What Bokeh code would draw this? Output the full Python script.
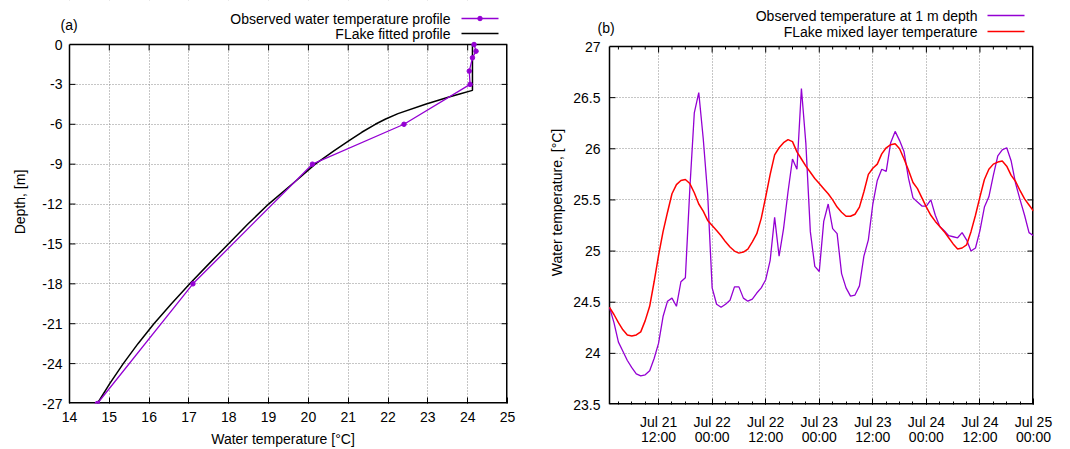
from bokeh.plotting import figure
from bokeh.layouts import row
from bokeh.models import FixedTicker, Range1d
from bokeh.core.properties import value
from bokeh.embed import file_html
from bokeh.resources import INLINE

FONT = "Liberation Sans"
PURPLE = "#9400D3"
PAGE_H = 449

# ---------------- (a) vertical temperature profile ----------------
obs_depth = [0, -0.5, -1, -2, -3, -6, -9, -18, -27]
obs_temp = [24.16, 24.21, 24.12, 24.04, 24.06, 22.40, 20.10, 17.10, 14.70]

fit_depth = [0, -3.45, -3.7, -3.95, -4.5, -5.2, -5.6, -6, -6.6, -7.2, -8, -9, -10.1,
             -12, -13.5, -15, -16.5, -18, -19.5, -21, -22.5, -24, -25.5, -27]
fit_temp = [24.12, 24.12, 23.82, 23.53, 22.94, 22.25, 21.94, 21.68, 21.34, 21.04,
            20.64, 20.17, 19.75, 19.00, 18.48, 17.99, 17.50, 17.02, 16.56, 16.12,
            15.72, 15.35, 15.01, 14.70]

temp_ticks = list(range(14, 26))
depth_ticks = list(range(-27, 1, 3))
depth_labels = ["-27", "-24", "-21", "-18", "-15", "-12", "-9", "-6", "-3", "0"]

# ---------------- (b) time series, hours after Jul 21 00:00 ----------------
hours = list(range(1, 97))
obs_1m = [24.45, 24.30, 24.11, 24.02, 23.93, 23.86, 23.80, 23.78, 23.79, 23.83,
          23.95, 24.10, 24.36, 24.51, 24.54, 24.46, 24.70, 24.74, 25.61, 26.35,
          26.55, 26.10, 25.55, 24.64, 24.48, 24.45, 24.48, 24.52, 24.65, 24.65,
          24.54, 24.51, 24.53, 24.59, 24.64, 24.72, 24.91, 25.33, 24.95, 25.22,
          25.58, 25.90, 25.80, 26.59, 26.05, 25.19, 24.85, 24.80, 25.29, 25.46,
          25.22, 25.17, 24.78, 24.64, 24.56, 24.57, 24.66, 24.95, 25.11, 25.46,
          25.69, 25.80, 25.78, 26.06, 26.17, 26.08, 25.97, 25.71, 25.52, 25.48,
          25.44, 25.44, 25.50, 25.35, 25.24, 25.20, 25.15, 25.14, 25.13, 25.18,
          25.11, 25.00, 25.03, 25.20, 25.43, 25.53, 25.74, 25.93, 25.99, 26.01,
          25.88, 25.66, 25.50, 25.35, 25.18, 25.15]
flake_ml = [24.45, 24.38, 24.30, 24.23, 24.18, 24.17, 24.18, 24.21, 24.32, 24.46,
            24.70, 24.96, 25.19, 25.38, 25.56, 25.65, 25.69, 25.70, 25.66, 25.57,
            25.46, 25.39, 25.30, 25.25, 25.20, 25.15, 25.09, 25.04, 25.00, 24.98,
            24.99, 25.02, 25.09, 25.17, 25.32, 25.53, 25.75, 25.94, 26.01, 26.06,
            26.09, 26.07, 25.97, 25.90, 25.83, 25.77, 25.71, 25.66, 25.61, 25.56,
            25.50, 25.43, 25.38, 25.34, 25.34, 25.36, 25.43, 25.58, 25.75, 25.81,
            25.85, 25.95, 26.01, 26.04, 26.05, 26.00, 25.90, 25.79, 25.67, 25.61,
            25.52, 25.43, 25.35, 25.29, 25.24, 25.19, 25.13, 25.07, 25.02, 25.03,
            25.06, 25.19, 25.35, 25.53, 25.70, 25.80, 25.85, 25.87, 25.88, 25.83,
            25.74, 25.68, 25.59, 25.51, 25.45, 25.39]

time_ticks = [12, 24, 36, 48, 60, 72, 84, 96]
time_labels = ["Jul 21\n12:00", "Jul 22\n00:00", "Jul 22\n12:00", "Jul 23\n00:00",
               "Jul 23\n12:00", "Jul 24\n00:00", "Jul 24\n12:00", "Jul 25\n00:00"]
time_minor = list(range(3, 97, 3))
wt_ticks = [23.5, 24, 24.5, 25, 25.5, 26, 26.5, 27]
wt_labels = ["23.5", "24", "24.5", "25", "25.5", "26", "26.5", "27"]

MAJOR_PX = 6
MINOR_PX = 3


def gnuplot_panel(page_x0, fig_w, box, frame_left, xr, yr, xticks, yticks,
                  xminor=(), xover=None, yover=None, ylab_standoff=0):
    """A boxed gnuplot-style panel.

    box = (left, right, top, bottom) of the plotting box in page pixels.  The
    Bokeh frame reaches up to the top of the page and a little left of the box,
    so that the panel letter and the key can be drawn as ordinary glyphs; the
    parts of the frame outside the box are masked white.
    """
    L, R, T, B = box
    kx = (xr[1] - xr[0]) / (R - L)
    ky = (yr[1] - yr[0]) / (B - T)

    def px(x):
        return xr[0] + (x - L) * kx

    def py(y):
        return yr[1] - (y - T) * ky

    p = figure(frame_width=R - frame_left, frame_height=B,
               min_border_left=frame_left - page_x0,
               min_border_right=page_x0 + fig_w - R,
               min_border_top=0, min_border_bottom=PAGE_H - B,
               x_range=Range1d(px(frame_left), xr[1]), y_range=Range1d(yr[0], py(0)),
               output_backend="svg", toolbar_location=None)
    p.outline_line_color = None
    p.background_fill_color = "white"
    p.border_fill_color = "white"

    xt = FixedTicker(ticks=xticks, minor_ticks=list(xminor))
    yt = FixedTicker(ticks=yticks)
    for g in (p.xgrid, p.ygrid):
        g.grid_line_color = "#8c8c8c"
        g.grid_line_dash = "1 2"
        g.grid_line_width = 1
    p.xgrid.ticker = xt
    p.ygrid.ticker = yt

    xa = p.xaxis[0]
    ya = p.yaxis[0]
    xa.ticker = xt
    ya.ticker = yt
    for ax in (xa, ya):
        ax.axis_line_color = None
        ax.major_tick_out = 0
        ax.minor_tick_out = 0
        ax.major_tick_line_color = "black"
        ax.minor_tick_line_color = "black"
        ax.major_label_text_font = FONT
        ax.major_label_text_font_size = "14px"
        ax.major_label_text_color = "black"
        ax.axis_label_text_font = FONT
        ax.axis_label_text_font_size = "14px"
        ax.axis_label_text_font_style = "normal"
        ax.axis_label_text_color = "black"
    xa.major_tick_in = MAJOR_PX
    xa.minor_tick_in = MINOR_PX if xminor else 0
    ya.major_tick_in = 0
    ya.minor_tick_in = 0
    ya.major_label_standoff = -(L - frame_left) + ylab_standoff
    if xover:
        xa.major_label_overrides = xover
    if yover:
        ya.major_label_overrides = yover

    # white mask over the frame outside the box (left strip and top strip)
    x_lo, y_hi = px(frame_left), py(0)
    p.quad(left=[x_lo, x_lo], right=[xr[0], xr[1]], bottom=[yr[0], yr[1]],
           top=[y_hi, y_hi], fill_color="white", line_color=None)

    # box: left and top edges lie inside the frame, right and bottom on its edge
    p.segment(x0=[xr[0], xr[0]], y0=[yr[0], yr[1]], x1=[xr[0], xr[1]], y1=[yr[1], yr[1]],
              line_color="black", line_width=1.5)
    p.segment(x0=[xr[1], xr[0]], y0=[yr[0], yr[0]], x1=[xr[1], xr[1]], y1=[yr[1], yr[0]],
              line_color="black", line_width=3)

    # inward ticks on left, right and top edges
    yin = [t for t in yticks if yr[0] < t < yr[1]]
    xin = [t for t in xticks if xr[0] < t < xr[1]]
    xmn = [t for t in xminor if xr[0] < t < xr[1] and t not in xticks]
    tx0 = [xr[0]] * len(yin) + [xr[1]] * len(yin) + xin + xmn
    tx1 = ([xr[0] + MAJOR_PX * kx] * len(yin) + [xr[1] - MAJOR_PX * kx] * len(yin)
           + xin + xmn)
    ty0 = yin + yin + [yr[1]] * (len(xin) + len(xmn))
    ty1 = yin + yin + [yr[1] - MAJOR_PX * ky] * len(xin) + [yr[1] - MINOR_PX * ky] * len(xmn)
    p.segment(x0=tx0, y0=ty0, x1=tx1, y1=ty1, line_color="black", line_width=1)
    return p, xa, ya, px, py


def key_text(p, xs, ys, texts, align="right"):
    p.text(x=xs, y=ys, text=texts, text_font=value(FONT), text_font_size=value("14px"),
           text_color="black", text_align=align, text_baseline="middle")


# ---------------- panel (a) ----------------
pa, xa, ya, ax_, ay_ = gnuplot_panel(0, 530, (69, 507, 44, 403), 58, (14, 25), (-27, 0),
                                     temp_ticks, depth_ticks,
                                     yover={t: s for t, s in zip(depth_ticks, depth_labels)},
                                     ylab_standoff=7)
xa.axis_label = "Water temperature [°C]"
ya.axis_label = "Depth, [m]"
xa.major_label_standoff = 8
xa.axis_label_standoff = 6
ya.axis_label_standoff = 11

pa.line(fit_temp, fit_depth, line_color="black", line_width=1.5)
pa.line(obs_temp, obs_depth, line_color=PURPLE, line_width=1.3)
pa.scatter(obs_temp, obs_depth, size=4.5, color=PURPLE)

key_text(pa, [ax_(450), ax_(450)], [ay_(18), ay_(33)],
         ["Observed water temperature profile", "FLake fitted profile"])
pa.segment(x0=[ax_(461), ax_(461)], y0=[ay_(18), ay_(33)],
           x1=[ax_(498), ax_(498)], y1=[ay_(18), ay_(33)],
           line_color=[PURPLE, "black"], line_width=1.5)
pa.scatter([ax_(479.5)], [ay_(18)], size=4.5, color=PURPLE)
key_text(pa, [ax_(60)], [ay_(24)], ["(a)"], align="left")

# ---------------- panel (b) ----------------
pb, xb, yb, bx_, by_ = gnuplot_panel(530, 540, (609, 1033, 46, 404), 595, (1, 96), (23.5, 27),
                                     time_ticks, wt_ticks, xminor=time_minor,
                                     xover={t: s for t, s in zip(time_ticks, time_labels)},
                                     yover={t: s for t, s in zip(wt_ticks, wt_labels)},
                                     ylab_standoff=9)
xb.major_label_text_line_height = 0.95
xb.major_label_standoff = 9
yb.axis_label = "Water temperature, [°C]"
yb.axis_label_standoff = 5

pb.line(hours, obs_1m, line_color=PURPLE, line_width=1.3)
pb.line(hours, flake_ml, line_color="red", line_width=1.5)

key_text(pb, [bx_(977), bx_(977)], [by_(15), by_(31)],
         ["Observed temperature at 1 m depth", "FLake mixed layer temperature"])
pb.segment(x0=[bx_(987), bx_(987)], y0=[by_(15), by_(31)],
           x1=[bx_(1024), bx_(1024)], y1=[by_(15), by_(31)],
           line_color=[PURPLE, "red"], line_width=1.5)
key_text(pb, [bx_(597)], [by_(27)], ["(b)"], align="left")

layout = row(pa, pb, spacing=0)
open("out.html", "w").write(file_html(layout, INLINE))
